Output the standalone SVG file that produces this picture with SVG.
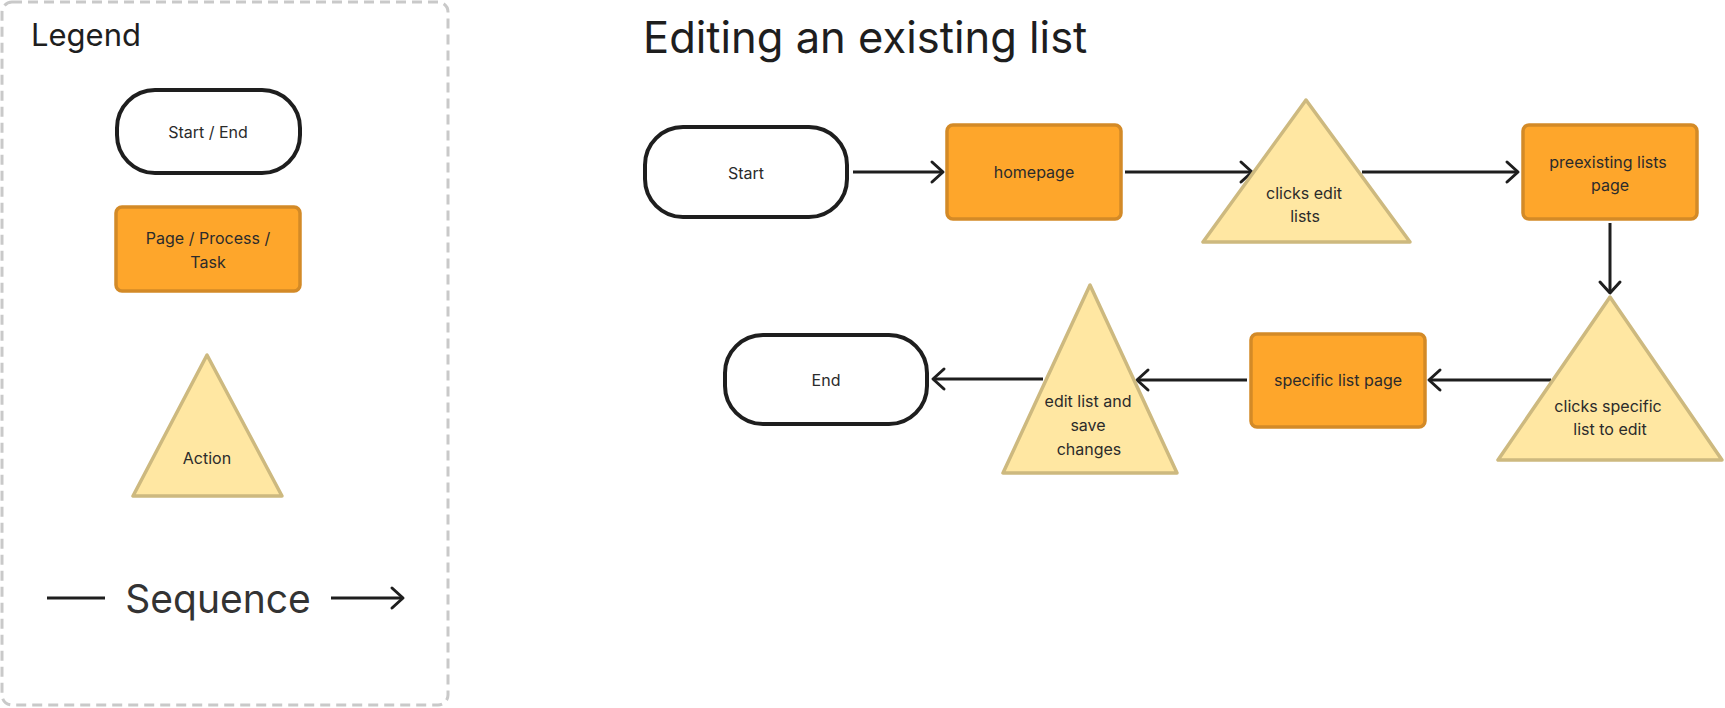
<svg xmlns="http://www.w3.org/2000/svg" width="1725" height="708" viewBox="0 0 1725 708">
<style>
  .lbl { font-family: Inter, "Noto Sans", "Liberation Sans", sans-serif; font-size: 16px; fill: #2b2b2b; text-anchor: middle; }
  .term { fill: #ffffff; stroke: #1e1e1e; stroke-width: 4; }
  .page { fill: #fea62b; stroke: #d38a27; stroke-width: 3.5; }
  .act { fill: #ffe7a2; stroke: #cdb97f; stroke-width: 3.5; stroke-linejoin: round; }
  .conn { fill: none; stroke: #1e1e1e; stroke-width: 3; }
  .big { font-family: Inter, "Noto Sans", "Liberation Sans", sans-serif; fill: #1e1e1e; }
</style>
<defs>
  <marker id="arr" markerUnits="userSpaceOnUse" markerWidth="30" markerHeight="30" viewBox="-15 -15 30 30" refX="0" refY="0" orient="auto">
    <path d="M -11 -10 L 0 0 L -11 10" fill="none" stroke="#1e1e1e" stroke-width="3" stroke-linecap="round" stroke-linejoin="round"/>
  </marker>
</defs>
<rect x="0" y="0" width="1725" height="708" fill="#ffffff"/>

<g id="legend">
  <rect x="2" y="2" width="446" height="703" rx="10" fill="none" stroke="#c9c9c9" stroke-width="3" stroke-dasharray="10 6"/>
  <text class="big" x="31" y="46" font-size="31">Legend</text>
  <g id="legend-terminal">
    <rect class="term" x="117" y="90" width="183" height="83" rx="38"/>
    <text class="lbl" x="208" y="138">Start / End</text>
  </g>
  <g id="legend-page">
    <rect class="page" x="116" y="207" width="184" height="84" rx="6"/>
    <text class="lbl" x="208" y="244">Page / Process /</text>
    <text class="lbl" x="208" y="268">Task</text>
  </g>
  <g id="legend-action">
    <polygon class="act" points="207,355 133,496 282,496"/>
    <text class="lbl" x="207" y="464">Action</text>
  </g>
  <g id="legend-sequence">
    <line x1="47" y1="598" x2="105" y2="598" stroke="#1e1e1e" stroke-width="3"/>
    <text x="218" y="613" font-size="39" text-anchor="middle" font-family="Inter, 'Noto Sans', 'Liberation Sans', sans-serif" fill="#333333">Sequence</text>
    <path class="conn" d="M 331 598 L 403 598" marker-end="url(#arr)"/>
  </g>
</g>

<text class="big" x="643" y="53" font-size="43.5">Editing an existing list</text>

<g id="connectors">
  <path class="conn" d="M 853 172 L 943 172" marker-end="url(#arr)"/>
  <path class="conn" d="M 1125 172 L 1252 172" marker-end="url(#arr)"/>
  <path class="conn" d="M 1362 172 L 1518 172" marker-end="url(#arr)"/>
  <path class="conn" d="M 1610 223 L 1610 293" marker-end="url(#arr)"/>
  <path class="conn" d="M 1551 380 L 1429 380" marker-end="url(#arr)"/>
  <path class="conn" d="M 1247 380 L 1137 380" marker-end="url(#arr)"/>
  <path class="conn" d="M 1043 379 L 933 379" marker-end="url(#arr)"/>
</g>

<g id="start">
  <rect class="term" x="645" y="127" width="202" height="90" rx="38"/>
  <text class="lbl" x="746" y="179">Start</text>
</g>
<g id="homepage">
  <rect class="page" x="947" y="125" width="174" height="94" rx="6"/>
  <text class="lbl" x="1034" y="178">homepage</text>
</g>
<g id="clicks-edit-lists">
  <polygon class="act" points="1306,100 1203,242 1410,242"/>
  <text class="lbl" x="1304" y="199">clicks edit</text>
  <text class="lbl" x="1305" y="222">lists</text>
</g>
<g id="preexisting-lists-page">
  <rect class="page" x="1523" y="125" width="174" height="94" rx="6"/>
  <text class="lbl" x="1608" y="168">preexisting lists</text>
  <text class="lbl" x="1610" y="191">page</text>
</g>
<g id="clicks-specific-list">
  <polygon class="act" points="1610,297 1498,460 1722,460"/>
  <text class="lbl" x="1608" y="412">clicks specific</text>
  <text class="lbl" x="1610" y="435">list to edit</text>
</g>
<g id="specific-list-page">
  <rect class="page" x="1251" y="334" width="174" height="93" rx="6"/>
  <text class="lbl" x="1338" y="386">specific list page</text>
</g>
<g id="edit-list-save">
  <polygon class="act" points="1090,285 1003,473 1177,473"/>
  <text class="lbl" x="1088" y="407">edit list and</text>
  <text class="lbl" x="1088" y="431">save</text>
  <text class="lbl" x="1089" y="455">changes</text>
</g>
<g id="end">
  <rect class="term" x="725" y="335" width="202" height="89" rx="38"/>
  <text class="lbl" x="826" y="386">End</text>
</g>
</svg>
